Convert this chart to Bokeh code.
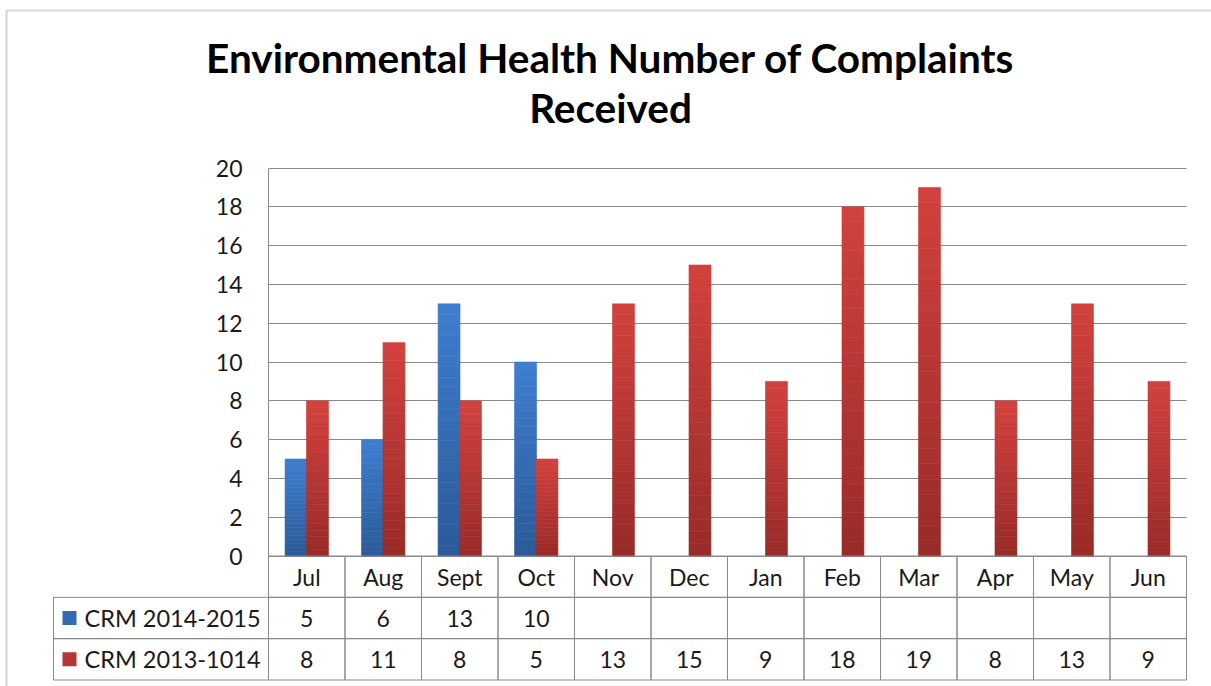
from bokeh.plotting import figure
from bokeh.models import Range1d, FixedTicker, Grid, BoxAnnotation
from bokeh.embed import file_html
from bokeh.resources import INLINE
from bokeh.core.properties import value

# ---------------- data ----------------
months = ["Jul", "Aug", "Sept", "Oct", "Nov", "Dec", "Jan", "Feb", "Mar", "Apr", "May", "Jun"]
crm_2014_2015 = [5, 6, 13, 10, None, None, None, None, None, None, None, None]
crm_2013_2014 = [8, 11, 8, 5, 13, 15, 9, 18, 19, 8, 13, 9]
series_names = ["CRM 2014-2015", "CRM 2013-1014"]
y_ticks = [0, 2, 4, 6, 8, 10, 12, 14, 16, 18, 20]
title_lines = ["Environmental Health Number of Complaints", "Received"]

# ---------------- layout (pixels) / style ----------------
FONT = "Lato"
W, H = 1211, 686
N = len(months)
COL_PX = 76.5           # width of one month column
PX_Y = 19.4             # pixels per complaint
X0_PX = 268             # page x of the first month column
Y20_PX = 167.5          # page y of the value 20
ROW_PX = 124 / 3.0      # table row height
LEG_PX = 215            # legend column width
TITLE_X_PX = 610
TITLE_BASE_PX = [57, 107]
BORDER_X_PX, BORDER_Y_PX = 6, 10
GRID = "#8a8a8a"
TXT = "#1a1a1a"
blue_top, blue_bot = (62, 126, 208), (43, 90, 152)
red_top, red_bot = (210, 65, 61), (152, 43, 41)
STEPS = 24
offset, bw = 0.14, 0.287

x_start = -X0_PX / COL_PX
x_end = x_start + W / COL_PX
y_end = 20 + Y20_PX / PX_Y
y_start = y_end - H / PX_Y
rh = ROW_PX / PX_Y
leg_w = LEG_PX / COL_PX


def mix(c1, c2, t):
    return "#%02x%02x%02x" % tuple(int(round(a + (b - a) * t)) for a, b in zip(c1, c2))


def px_to_x(px):
    return x_start + px / COL_PX


def px_to_y(py):
    return y_end - py / PX_Y


p = figure(width=W, height=H, x_range=Range1d(x_start, x_end), y_range=Range1d(y_start, y_end),
           x_axis_location=None, output_backend="svg", toolbar_location=None,
           min_border_left=0, min_border_right=0, min_border_top=0, min_border_bottom=0)
p.outline_line_color = None
p.background_fill_color = "white"
p.border_fill_color = "white"
p.xgrid.visible = False

g = p.ygrid[0]
g.ticker = FixedTicker(ticks=y_ticks)
g.grid_line_color = GRID
g.grid_line_width = 1
if "cross_bounds" in Grid.properties():
    g.cross_bounds = (0, N)
else:
    g.visible = False
    p.segment(x0=[0] * len(y_ticks), x1=[N] * len(y_ticks), y0=y_ticks, y1=y_ticks,
              line_color=GRID, line_width=1)

ax = p.yaxis[0]
ax.fixed_location = 0
ax.bounds = (0, 20)
ax.ticker = FixedTicker(ticks=y_ticks)
ax.axis_line_color = GRID
ax.major_tick_line_color = None
ax.minor_tick_line_color = None
ax.major_tick_in = 0
ax.major_tick_out = 0
ax.major_label_standoff = 26
ax.major_label_text_font = FONT
ax.major_label_text_font_size = "23px"
ax.major_label_text_color = TXT

# outer chart border (left and top edges visible)
p.add_layout(BoxAnnotation(left=px_to_x(BORDER_X_PX), right=x_end + 5,
                           top=px_to_y(BORDER_Y_PX), bottom=y_start - 5,
                           fill_alpha=0, line_color="#7c7c7c", line_width=2.2))

# bars with a vertical gradient (slices of each bar's own value)
for vals, sign, ctop, cbot in [(crm_2014_2015, -1, blue_top, blue_bot),
                               (crm_2013_2014, 1, red_top, red_bot)]:
    xs, bots, tops, cols = [], [], [], []
    for i, v in enumerate(vals):
        if v is None:
            continue
        for k in range(STEPS):
            xs.append(i + 0.5 + sign * offset)
            bots.append(v * k / STEPS)
            tops.append(v * (k + 1) / STEPS)
            cols.append(mix(cbot, ctop, (k + 0.5) / STEPS))
    p.vbar(x=xs, bottom=bots, top=tops, width=bw, fill_color=cols, line_color=cols, line_width=0.6)

# title
p.text(x=[px_to_x(TITLE_X_PX)] * 2, y=[px_to_y(b) for b in TITLE_BASE_PX], text=title_lines,
       text_align="center", text_baseline="alphabetic", text_font=value(FONT),
       text_font_size="40.5px", text_font_style="bold", text_color="#000000")

# ---------------- data table ----------------
ql, qr, qt, qb = [], [], [], []
for r in range(3):
    for i in range(N):
        ql.append(i); qr.append(i + 1); qt.append(-r * rh); qb.append(-(r + 1) * rh)
for r in (1, 2):
    ql.append(-leg_w); qr.append(0); qt.append(-r * rh); qb.append(-(r + 1) * rh)
p.quad(left=ql, right=qr, top=qt, bottom=qb, fill_color=None, line_color=GRID, line_width=1)

tx, ty, tt = [], [], []
for i, m in enumerate(months):
    tx.append(i + 0.5); ty.append(-0.5 * rh); tt.append(m)
for r, vals in ((1, crm_2014_2015), (2, crm_2013_2014)):
    for i, v in enumerate(vals):
        tx.append(i + 0.5); ty.append(-(r + 0.5) * rh); tt.append("" if v is None else str(v))
p.text(x=tx, y=ty, text=tt, text_align="center", text_baseline="middle",
       text_font=value(FONT), text_font_size="23px", text_color=TXT)

p.text(x=[-leg_w + 31 / COL_PX] * 2, y=[-1.5 * rh, -2.5 * rh], text=series_names,
       text_align="left", text_baseline="middle", text_font=value(FONT),
       text_font_size="23.5px", text_color=TXT)
p.scatter(x=[-leg_w + 16 / COL_PX] * 2, y=[-1.5 * rh, -2.5 * rh], marker="square", size=14,
          fill_color=[mix(blue_top, blue_bot, 0.5), mix(red_top, red_bot, 0.5)],
          line_color=None)

open("out.html", "w").write(file_html(p, INLINE))
